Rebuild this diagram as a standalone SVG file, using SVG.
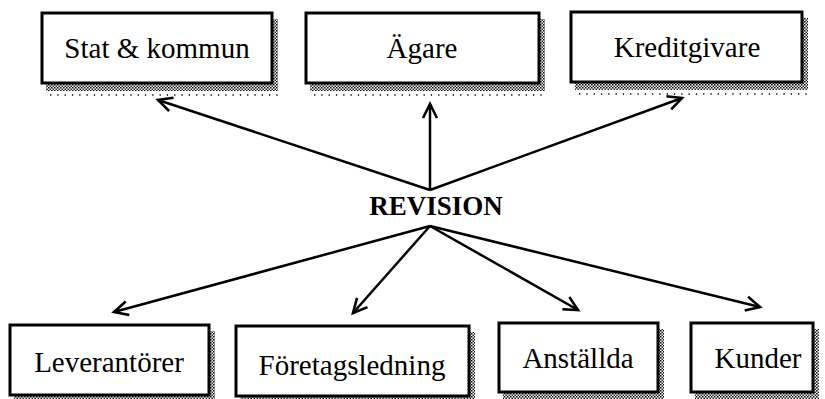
<svg xmlns="http://www.w3.org/2000/svg" width="825" height="399" viewBox="0 0 825 399">
  <style>
    .box { fill: #ffffff; stroke: #000000; stroke-width: 3; }
    .shadow { fill: url(#dots); }
    .sparse { stroke: #000000; stroke-width: 1.3; stroke-dasharray: 1.3 6; fill: none; }
    .label { font-family: "Liberation Serif", serif; font-weight: normal; font-size: 29px; fill: #000000; text-anchor: middle; }
    .title { font-family: "Liberation Serif", serif; font-size: 27px; font-weight: bold; fill: #000000; text-anchor: middle; }
    .conn { stroke: #000000; stroke-width: 2.5; fill: none; marker-end: url(#arrow); }
  </style>
  <defs>
    <!-- fine stipple used for the drop shadows -->
    <pattern id="dots" width="3" height="3" patternUnits="userSpaceOnUse">
      <rect x="0" y="0" width="1.5" height="1.5" fill="#000000"/>
      <rect x="1.5" y="1.5" width="1.5" height="1.5" fill="#222222"/>
    </pattern>
    <!-- open V arrowhead -->
    <marker id="arrow" markerUnits="userSpaceOnUse" markerWidth="20" markerHeight="20" refX="0" refY="0" viewBox="-16 -10 20 20" orient="auto" overflow="visible">
      <path d="M -14 -7 L 0 0 L -14 7" fill="none" stroke="#000000" stroke-width="2.6" stroke-linejoin="miter"/>
    </marker>
  </defs>

  <!-- connectors -->
  <g id="connectors">
    <line class="conn" x1="430" y1="190" x2="158" y2="100"/>
    <line class="conn" x1="430" y1="190" x2="430" y2="104"/>
    <line class="conn" x1="430" y1="190" x2="682" y2="98"/>
    <line class="conn" x1="430" y1="226" x2="114" y2="312"/>
    <line class="conn" x1="430" y1="226" x2="353" y2="313"/>
    <line class="conn" x1="430" y1="226" x2="578" y2="310"/>
    <line class="conn" x1="430" y1="226" x2="760" y2="307"/>
  </g>

  <!-- centre label -->
  <g id="revision">
    <text class="title" x="436" y="215">REVISION</text>
  </g>

  <!-- upper row -->
  <g id="stat-kommun">
    <rect class="shadow" x="46" y="19" width="232" height="72"/>
    <line class="sparse" x1="50" y1="95" x2="278" y2="95"/>
    <rect class="box" x="42" y="13" width="230" height="70"/>
    <text class="label" x="157" y="58">Stat &amp; kommun</text>
  </g>
  <g id="agare">
    <rect class="shadow" x="310" y="19" width="235" height="72"/>
    <line class="sparse" x1="314" y1="95" x2="545" y2="95"/>
    <rect class="box" x="306" y="13" width="233" height="70"/>
    <text class="label" x="422" y="58">Ägare</text>
  </g>
  <g id="kreditgivare">
    <rect class="shadow" x="575" y="18" width="233" height="72"/>
    <line class="sparse" x1="579" y1="94" x2="808" y2="94"/>
    <rect class="box" x="571" y="12" width="231" height="70"/>
    <text class="label" x="687" y="57">Kreditgivare</text>
  </g>

  <!-- lower row -->
  <g id="leverantorer">
    <rect class="shadow" x="14" y="331" width="201" height="72"/>
    <rect class="box" x="10" y="325" width="199" height="70"/>
    <text class="label" x="109" y="372">Leverantörer</text>
  </g>
  <g id="foretagsledning">
    <rect class="shadow" x="240" y="332" width="235" height="72"/>
    <rect class="box" x="236" y="326" width="233" height="70"/>
    <text class="label" x="352" y="375">Företagsledning</text>
  </g>
  <g id="anstallda">
    <rect class="shadow" x="503" y="329" width="161" height="71"/>
    <rect class="box" x="499" y="323" width="159" height="69"/>
    <text class="label" x="578" y="368">Anställda</text>
  </g>
  <g id="kunder">
    <rect class="shadow" x="695" y="329" width="124" height="71"/>
    <rect class="box" x="691" y="323" width="122" height="69"/>
    <text class="label" x="758" y="368">Kunder</text>
  </g>
</svg>
